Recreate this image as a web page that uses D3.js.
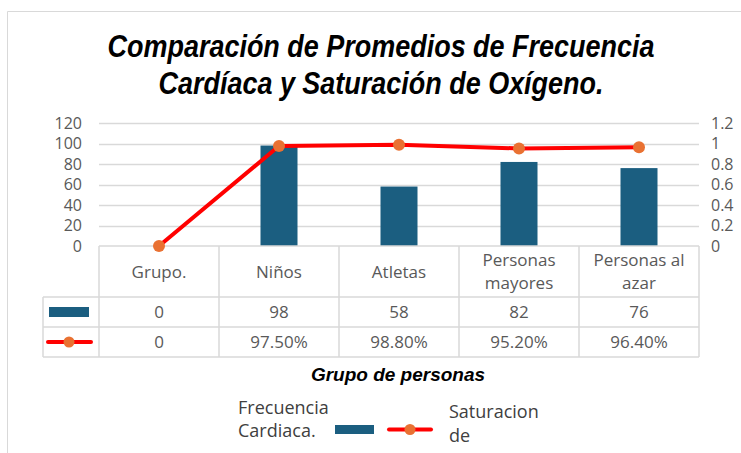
<!DOCTYPE html>
<html>
<head>
<meta charset="utf-8">
<script src="https://cdn.jsdelivr.net/npm/d3@7"></script>
<style>
  body { margin: 0; background: #fff; }
  text { font-family: "Open Sans", "Noto Sans", sans-serif; }
</style>
</head>
<body>
<script>
// datos
let grupos = ["Grupo.", "Niños", "Atletas", "Personas mayores", "Personas al azar"];
let etiquetas = [["Grupo."], ["Niños"], ["Atletas"], ["Personas", "mayores"], ["Personas al", "azar"]];
let frecuencia = [0, 98, 58, 82, 76];
let saturacion = [0, 0.975, 0.988, 0.952, 0.964];
let ticksIzq = [0, 20, 40, 60, 80, 100, 120];
let ticksDer = [0, 0.2, 0.4, 0.6, 0.8, 1, 1.2];

let width = 741, height = 453;
let azul = "#1b5e80", rojo = "#ff0000", naranja = "#e97132", gris = "#595959", linea = "#d9d9d9";

let svg = d3.select("body").append("svg")
    .attr("width", width).attr("height", height);

// borde del area del grafico
svg.append("path").attr("d", "M7.5,460 V11.5 H760")
    .attr("fill", "none").attr("stroke", "#d9d9d9");

// titulo (condensado a mano)
let titulo = svg.append("text")
    .attr("text-anchor", "middle")
    .attr("transform", "translate(381,0) scale(0.87,1)")
    .style("font-family", "'Liberation Sans', Arial, sans-serif")
    .style("font-weight", "bold").style("font-style", "italic")
    .style("font-size", "31px").attr("fill", "#000");
titulo.append("tspan").attr("x", 0).attr("y", 57).text("Comparación de Promedios de Frecuencia");
titulo.append("tspan").attr("x", 0).attr("y", 94).text("Cardíaca y Saturación de Oxígeno.");

let xScale = d3.scaleBand().domain(grupos).range([99, 699]);
let yScale = d3.scaleLinear().domain([0, 120]).range([246, 123]);
let y2Scale = d3.scaleLinear().domain([0, 1.2]).range([246, 123]);

// rejilla
svg.append("g").selectAll("line").data(ticksIzq.slice(1)).enter().append("line")
    .attr("x1", 99).attr("x2", 699)
    .attr("y1", (d) => Math.round(yScale(d)) + 0.5).attr("y2", (d) => Math.round(yScale(d)) + 0.5)
    .attr("stroke", linea).attr("stroke-width", 1.5);

// ejes
let yAxis = d3.axisLeft(yScale).tickValues(ticksIzq).tickSize(0).tickPadding(0);
let gy = svg.append("g").attr("transform", "translate(82,0)").call(yAxis);
gy.select(".domain").remove();
gy.selectAll("text").attr("fill", gris).style("font-size", "16px");

let y2Axis = d3.axisRight(y2Scale).tickValues(ticksDer).tickSize(0).tickPadding(0)
    .tickFormat((d) => d3.format("~g")(d));
let gy2 = svg.append("g").attr("transform", "translate(711,0)").call(y2Axis);
gy2.select(".domain").remove();
gy2.selectAll("text").attr("fill", gris).style("font-size", "16px");

// barras
let bw = 37;
svg.append("g").selectAll("rect").data(frecuencia).enter().append("rect")
    .attr("x", (d, i) => xScale(grupos[i]) + xScale.bandwidth() / 2 - bw / 2)
    .attr("y", (d) => yScale(d))
    .attr("width", bw)
    .attr("height", (d) => yScale(0) - yScale(d))
    .attr("fill", azul);

// tabla de datos
let filaTop = 246, filaH = 297, fila2 = 327, filaFin = 357, legIzq = 43;
let tabla = svg.append("g").attr("stroke", linea).attr("stroke-width", 1.5);
tabla.append("line").attr("x1", 99).attr("x2", 699).attr("y1", filaTop).attr("y2", filaTop);
[filaH, fila2, filaFin].forEach((y) => {
  tabla.append("line").attr("x1", legIzq).attr("x2", 699).attr("y1", y).attr("y2", y);
});
tabla.append("line").attr("x1", legIzq).attr("x2", legIzq).attr("y1", filaH).attr("y2", filaFin);
let cortes = grupos.map((g) => xScale(g)).concat([699]);
cortes.forEach((x) => {
  tabla.append("line").attr("x1", x).attr("x2", x).attr("y1", filaTop).attr("y2", filaFin);
});

let cx = (i) => xScale(grupos[i]) + xScale.bandwidth() / 2;
etiquetas.forEach((lineas, i) => {
  let t = svg.append("text").attr("text-anchor", "middle").attr("fill", gris).style("font-size", "17px");
  let y0 = lineas.length === 1 ? 278 : 266;
  lineas.forEach((l, j) => {
    t.append("tspan").attr("x", cx(i)).attr("y", y0 + j * 23).text(l);
  });
});
svg.append("g").selectAll("text").data(frecuencia).enter().append("text")
    .attr("x", (d, i) => cx(i)).attr("y", 318).attr("text-anchor", "middle")
    .attr("fill", gris).style("font-size", "17px").text((d) => d);
svg.append("g").selectAll("text").data(saturacion).enter().append("text")
    .attr("x", (d, i) => cx(i)).attr("y", 348).attr("text-anchor", "middle")
    .attr("fill", gris).style("font-size", "17px")
    .text((d) => d === 0 ? "0" : (d * 100).toFixed(2) + "%");

// claves dentro de la tabla
svg.append("rect").attr("x", 49).attr("y", 307).attr("width", 40).attr("height", 10).attr("fill", azul);
svg.append("line").attr("x1", 48).attr("x2", 91).attr("y1", 342).attr("y2", 342)
    .attr("stroke", rojo).attr("stroke-width", 4).attr("stroke-linecap", "round");
svg.append("circle").attr("cx", 69).attr("cy", 342).attr("r", 5.5).attr("fill", naranja);

// linea de saturacion
let lineGen = d3.line()
    .x((d, i) => cx(i))
    .y((d) => y2Scale(d));
svg.append("path").datum(saturacion).attr("d", lineGen)
    .attr("fill", "none").attr("stroke", rojo).attr("stroke-width", 4).attr("stroke-linejoin", "round");
svg.append("g").selectAll("circle").data(saturacion).enter().append("circle")
    .attr("cx", (d, i) => cx(i)).attr("cy", (d) => y2Scale(d)).attr("r", 6)
    .attr("fill", naranja);

// titulo del eje
svg.append("text").attr("x", 398).attr("y", 381).attr("text-anchor", "middle")
    .style("font-weight", "bold").style("font-style", "italic").style("font-size", "19px")
    .style("font-family", "'Liberation Sans', Arial, sans-serif")
    .attr("fill", "#000").text("Grupo de personas");

// leyenda
let leg = svg.append("g");
let t1 = leg.append("text").attr("fill", "#404040").style("font-size", "18px");
t1.append("tspan").attr("x", 238).attr("y", 414).text("Frecuencia");
t1.append("tspan").attr("x", 238).attr("y", 437).text("Cardiaca.");
leg.append("rect").attr("x", 335).attr("y", 425).attr("width", 39).attr("height", 9).attr("fill", azul);
leg.append("line").attr("x1", 389).attr("x2", 431).attr("y1", 429.5).attr("y2", 429.5)
    .attr("stroke", rojo).attr("stroke-width", 4).attr("stroke-linecap", "round");
leg.append("circle").attr("cx", 410).attr("cy", 429.5).attr("r", 5.5).attr("fill", naranja);
let t2 = leg.append("text").attr("fill", "#404040").style("font-size", "18px");
t2.append("tspan").attr("x", 449).attr("y", 418).text("Saturacion");
t2.append("tspan").attr("x", 449).attr("y", 442).text("de");
</script>
</body>
</html>
